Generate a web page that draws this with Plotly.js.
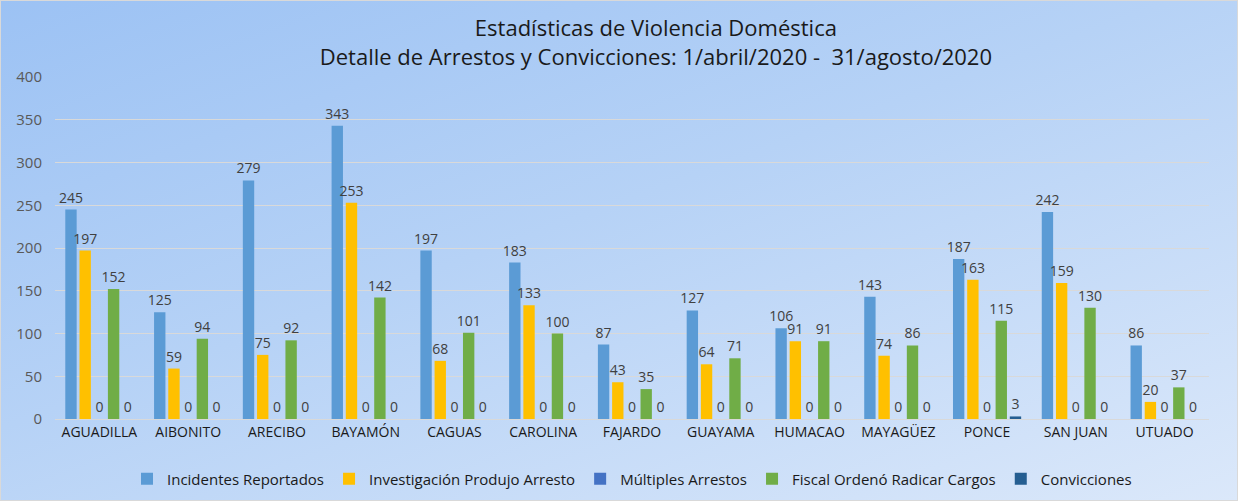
<!DOCTYPE html>
<html><head><meta charset="utf-8">
<script src="https://cdn.plot.ly/plotly-3.0.1.min.js"></script>
<style>
html,body{margin:0;padding:0;}
#chart{width:1238px;height:501px;background:linear-gradient(160deg,#9cc2f4 0%,#b6d2f6 45%,#dbe8fa 100%);box-sizing:border-box;border:1px solid #d9d9d9;}
</style></head>
<body><div id="chart"></div>
<script>
const categories = ["AGUADILLA","AIBONITO","ARECIBO","BAYAMÓN","CAGUAS","CAROLINA","FAJARDO","GUAYAMA","HUMACAO","MAYAGÜEZ","PONCE","SAN JUAN","UTUADO"];
const incidentes = [245,125,279,343,197,183,87,127,106,143,187,242,86];
const investigacion = [197,59,75,253,68,133,43,64,91,74,163,159,20];
const multiples = [0,0,0,0,0,0,0,0,0,0,0,0,0];
const fiscal = [152,94,92,142,101,100,35,71,91,86,115,130,37];
const convicciones = [0,0,0,0,0,0,0,0,0,0,3,0,0];
const seriesNames = ["Incidentes Reportados","Investigación Produjo Arresto","Múltiples Arrestos","Fiscal Ordenó Radicar Cargos","Convicciones"];
const seriesColors = ["#5b9bd5","#ffc000","#4472c4","#70ad47","#255e91"];
const seriesValues = [incidentes, investigacion, multiples, fiscal, convicciones];

const traces = seriesValues.map((v,i)=>({
  type:'bar', x:categories, y:v, name:seriesNames[i],
  marker:{color:seriesColors[i]},
  text:v.map(String), textposition:'outside', cliponaxis:false,
  textfont:{family:'Open Sans, sans-serif', size:14, color:'#404040'},
  hoverinfo:'x+y+name'
}));

const layout = {
  width:1238, height:501,
  paper_bgcolor:'rgba(0,0,0,0)', plot_bgcolor:'rgba(0,0,0,0)',
  margin:{l:54,r:30,t:76,b:83, autoexpand:false},
  barmode:'group', bargap:0.2, bargroupgap:0.2,
  uniformtext:{mode:'show', minsize:14},
  title:{text:'Estadísticas de Violencia Doméstica<br>Detalle de Arrestos y Convicciones: 1/abril/2020 -  31/agosto/2020',
    x:0.529, xanchor:'center', yref:'container', y:1-35/501, yanchor:'middle',
    font:{family:'Open Sans, sans-serif', size:22, color:'#1a1a1a'}},
  xaxis:{tickfont:{family:'Open Sans, sans-serif', size:14, color:'#1a1a1a'}, showline:true, linecolor:'#d9d9d9', ticks:''},
  yaxis:{range:[0,400], dtick:50, gridcolor:'#d9d9d9', zeroline:false,
    tickfont:{family:'Open Sans, sans-serif', size:15, color:'#595959'}, ticklabelstandoff:12},
  legend:{orientation:'h', x:0.5, xanchor:'center', yref:'container', y:(501-478)/501, yanchor:'middle',
    font:{family:'Open Sans, sans-serif', size:15, color:'#1a1a1a'},
    itemwidth:30, tracegroupgap:0, bgcolor:'rgba(0,0,0,0)'},
  showlegend:true
};
Plotly.newPlot('chart', traces, layout, {displayModeBar:false});
</script></body></html>
